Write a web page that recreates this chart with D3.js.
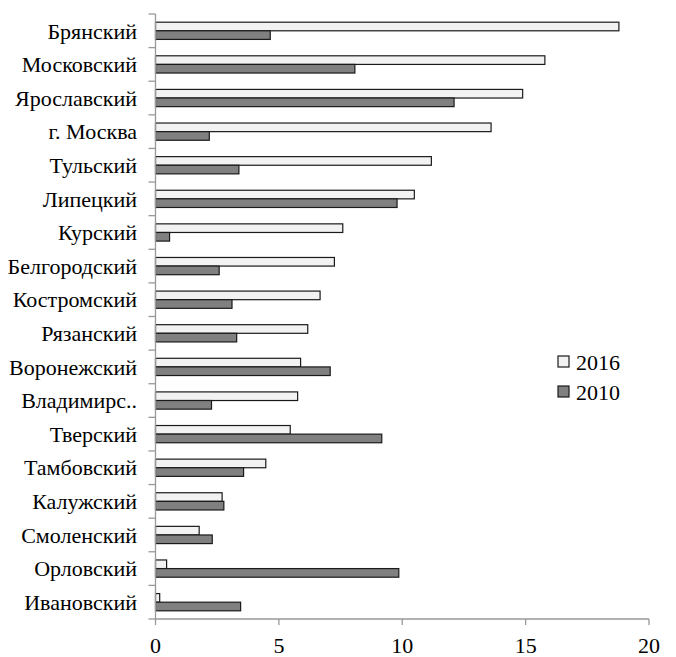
<!DOCTYPE html>
<html><head><meta charset="utf-8">
<script src="https://cdn.jsdelivr.net/npm/d3@7"></script>
<style>body{margin:0;background:#fff} text{font-family:"Liberation Serif","Times New Roman",serif;}</style>
</head><body>
<script>
const categories = ["Брянский","Московский","Ярославский","г. Москва","Тульский","Липецкий","Курский","Белгородский","Костромский","Рязанский","Воронежский","Владимирс..","Тверский","Тамбовский","Калужский","Смоленский","Орловский","Ивановский"];
const values2016 = [18.78,15.78,14.88,13.6,11.18,10.49,7.59,7.25,6.67,6.17,5.88,5.76,5.46,4.47,2.7,1.77,0.45,0.17];
const values2010 = [4.65,8.08,12.1,2.18,3.38,9.79,0.57,2.58,3.1,3.29,7.08,2.27,9.17,3.57,2.77,2.3,9.86,3.45];
const seriesNames = ["2016","2010"];
const xTicks = [0,5,10,15,20];

const W=676,H=657;
const svg=d3.select("body").append("svg").attr("width",W).attr("height",H);
const x=d3.scaleLinear().domain([0,20]).range([155.5,649]);
const y=d3.scaleBand().domain(categories).range([14,619]);
const sub=d3.scaleBand().domain(seriesNames).range([0,y.bandwidth()]).paddingOuter(0.95).paddingInner(0);
const colors={"2016":"#f2f2f2","2010":"#808080"};

// bars
const data=[];
categories.forEach((c,i)=>{data.push({c,s:"2016",v:values2016[i]});data.push({c,s:"2010",v:values2010[i]});});
svg.append("g").selectAll("rect").data(data).join("rect")
 .attr("x",x(0)).attr("y",d=>y(d.c)+sub(d.s))
 .attr("width",d=>x(d.v)-x(0)).attr("height",sub.bandwidth())
 .attr("fill",d=>colors[d.s]).attr("stroke","#1a1a1a").attr("stroke-width",1.2);

// y axis
const ya=svg.append("g");
ya.append("line").attr("x1",x(0)).attr("x2",x(0)).attr("y1",14).attr("y2",619).attr("stroke","#999").attr("stroke-width",1.3);
const bounds=categories.map(c=>y(c)).concat([619]);
ya.selectAll("line.t").data(bounds).join("line").attr("class","t")
 .attr("x1",x(0)-7).attr("x2",x(0)).attr("y1",d=>d).attr("y2",d=>d).attr("stroke","#999").attr("stroke-width",1.3);
ya.selectAll("text").data(categories).join("text")
 .attr("x",137).attr("y",d=>y(d)+y.bandwidth()/2).attr("dy","0.35em")
 .attr("text-anchor","end").attr("font-size",22).attr("fill","#000").text(d=>d);

// x axis
const xa=svg.append("g");
xa.append("line").attr("x1",x(0)).attr("x2",x(20)).attr("y1",619).attr("y2",619).attr("stroke","#999").attr("stroke-width",1.3);
xa.selectAll("line.t").data(xTicks).join("line").attr("class","t")
 .attr("x1",d=>x(d)).attr("x2",d=>x(d)).attr("y1",619).attr("y2",625).attr("stroke","#999").attr("stroke-width",1.3);
xa.selectAll("text").data(xTicks).join("text")
 .attr("x",d=>x(d)).attr("y",645).attr("dy","0.35em").attr("text-anchor","middle")
 .attr("font-size",22).attr("fill","#000").text(d=>d);

// legend
const lg=svg.append("g");
seriesNames.forEach((s,i)=>{
  const cy=362+i*30;
  lg.append("rect").attr("x",558).attr("y",cy-6).attr("width",11).attr("height",11)
    .attr("fill",colors[s]).attr("stroke","#1a1a1a").attr("stroke-width",1.2);
  lg.append("text").attr("x",576).attr("y",cy).attr("dy","0.35em")
    .attr("font-size",22).attr("fill","#000").text(s);
});
</script>
</body></html>
